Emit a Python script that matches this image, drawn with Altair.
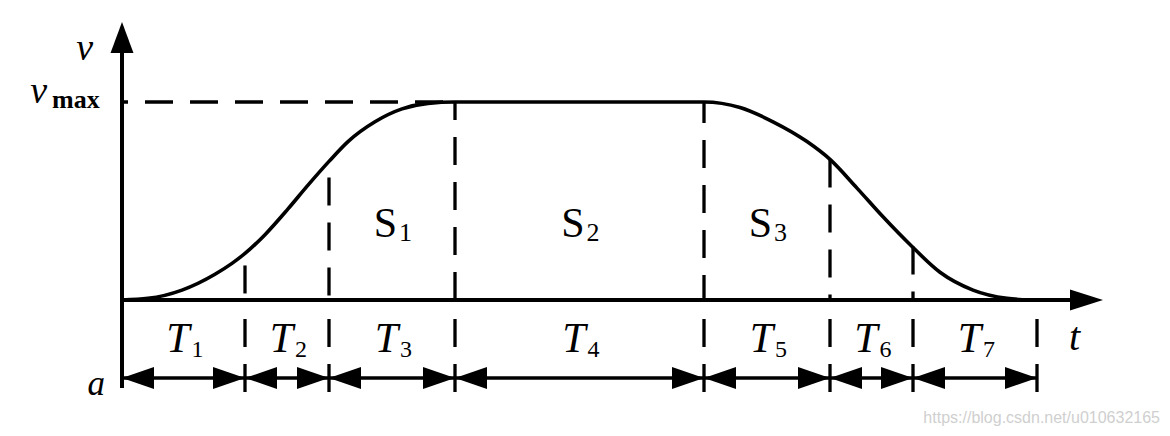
import altair as alt
import pandas as pd
import numpy as np

# ---------------- data ----------------
# durations of the seven phases T1..T7 (time units)
durations = [1.23, 0.84, 1.26, 2.49, 1.26, 0.83, 1.24]
phase_ids = ["1", "2", "3", "4", "5", "6", "7"]
# velocity profile samples (t, v) with v normalised so that v_max = 1
curve_t = [0.00, 0.26, 0.60, 0.93, 1.10, 1.23, 1.43, 1.66, 1.86, 2.07, 2.26, 2.53, 2.80, 3.06, 3.33,
           5.82, 6.18, 6.51, 6.85, 7.08, 7.35, 7.61, 7.90, 8.18, 8.51, 8.85, 9.08]
curve_v = [0.00, 0.008, 0.05, 0.13, 0.185, 0.235, 0.33, 0.46, 0.58, 0.70, 0.80, 0.90, 0.965, 0.993, 1.00,
           1.00, 0.972, 0.90, 0.80, 0.71, 0.565, 0.42, 0.27, 0.14, 0.05, 0.008, 0.00]
# curve height at the inner phase boundaries 1..6
boundary_top_v = [0.235, 0.70, 1.00, 1.00, 0.71, 0.27]
v_max = 1.0
area_ids = ["1", "2", "3"]          # S1, S2, S3 lie over T3, T4, T5
area_phase = [2, 3, 4]
watermark = "https://blog.csdn.net/u010632165"

# ---------------- layout ----------------
T_DOMAIN = [-1.14, 10.40]
V_DOMAIN = [-0.6465, 1.4747]
AXIS_TOP = 1.404       # tip of the v arrow
AXIS_BOTTOM = -0.444
X_TIP = 9.81           # tip of the t arrow
ROW_V = -0.394         # double-arrow row
DASH_BOTTOM = -0.465
T_LABEL_V = -0.263
S_LABEL_V = 0.318
DASH = [28, 17]
top_dash_offsets = [33, 29, 10, 7, 0, 0]

FONT = "Liberation Serif"

xs = alt.Scale(domain=T_DOMAIN, nice=False, zero=False)
ys = alt.Scale(domain=V_DOMAIN, nice=False, zero=False)


def X(f="t"):
    return alt.X(f"{f}:Q", scale=xs, axis=None)


def Y(f="v"):
    return alt.Y(f"{f}:Q", scale=ys, axis=None)


bounds = np.concatenate([[0.0], np.cumsum(durations)])
t_end = float(bounds[-1])
mids = (bounds[:-1] + bounds[1:]) / 2

layers = []

# velocity curve
curve_df = pd.DataFrame({"t": curve_t, "v": curve_v})
layers.append(alt.Chart(curve_df).mark_line(color="black", strokeWidth=3.6, interpolate="monotone")
              .encode(x=X(), y=Y()))

# v_max dashed line
vm_df = pd.DataFrame({"t": [0.0], "t2": [float(bounds[3])], "v": [v_max]})
layers.append(alt.Chart(vm_df).mark_rule(color="black", strokeWidth=3.3, strokeDash=DASH, strokeDashOffset=22)
              .encode(x=X(), x2="t2:Q", y=Y()))

# dashed boundaries above the axis
for i, (b, top) in enumerate(zip(bounds[1:7], boundary_top_v)):
    d = pd.DataFrame({"t": [float(b)], "v": [top], "v2": [0.0]})
    layers.append(alt.Chart(d).mark_rule(color="black", strokeWidth=3.3, strokeDash=DASH,
                                         strokeDashOffset=top_dash_offsets[i])
                  .encode(x=X(), y=Y(), y2="v2:Q"))

# dashed boundaries below the axis
below_df = pd.DataFrame({"t": bounds[1:], "v": DASH_BOTTOM, "v2": 0.0})
layers.append(alt.Chart(below_df).mark_rule(color="black", strokeWidth=3.3, strokeDash=DASH)
              .encode(x=X(), y=Y(), y2="v2:Q"))

# axes
xaxis_df = pd.DataFrame({"t": [0.0], "t2": [X_TIP - 0.25], "v": [0.0]})
layers.append(alt.Chart(xaxis_df).mark_rule(color="black", strokeWidth=4)
              .encode(x=X(), x2="t2:Q", y=Y()))
yaxis_df = pd.DataFrame({"t": [0.0], "v": [AXIS_BOTTOM], "v2": [AXIS_TOP - 0.1]})
layers.append(alt.Chart(yaxis_df).mark_rule(color="black", strokeWidth=4)
              .encode(x=X(), y=Y(), y2="v2:Q"))

# axis arrowheads (tip at the datum point)
layers.append(alt.Chart(pd.DataFrame({"t": [X_TIP], "v": [0.0]}))
              .mark_point(shape="M0,0 L-2,-0.64 L-2,0.64 Z", size=1089, filled=True, opacity=1,
                          color="black", strokeWidth=0)
              .encode(x=X(), y=Y()))
layers.append(alt.Chart(pd.DataFrame({"t": [0.0], "v": [AXIS_TOP]}))
              .mark_point(shape="M0,0 L-0.74,2 L0.74,2 Z", size=961, filled=True, opacity=1,
                          color="black", strokeWidth=0)
              .encode(x=X(), y=Y()))

# double-arrow row
row_df = pd.DataFrame({"t": [0.0], "t2": [t_end], "v": [ROW_V]})
layers.append(alt.Chart(row_df).mark_rule(color="black", strokeWidth=3.5)
              .encode(x=X(), x2="t2:Q", y=Y()))
left_df = pd.DataFrame({"t": bounds[:-1], "v": ROW_V})
right_df = pd.DataFrame({"t": bounds[1:], "v": ROW_V})
layers.append(alt.Chart(left_df)
              .mark_point(shape="M0,0 L2,-0.68 L2,0.68 Z", size=1024, filled=True, opacity=1,
                          color="black", strokeWidth=0)
              .encode(x=X(), y=Y()))
layers.append(alt.Chart(right_df)
              .mark_point(shape="M0,0 L-2,-0.68 L-2,0.68 Z", size=1024, filled=True, opacity=1,
                          color="black", strokeWidth=0)
              .encode(x=X(), y=Y()))

# T labels
tl_df = pd.DataFrame({"t": mids, "v": T_LABEL_V, "main": "T", "sub": phase_ids})
layers.append(alt.Chart(tl_df).mark_text(font=FONT, fontSize=42, fontStyle="italic", align="right",
                                         baseline="alphabetic", dx=6, color="black")
              .encode(x=X(), y=Y(), text="main:N"))
layers.append(alt.Chart(tl_df).mark_text(font=FONT, fontSize=24, align="left",
                                         baseline="alphabetic", dx=8, dy=5, color="black")
              .encode(x=X(), y=Y(), text="sub:N"))

# S labels
sl_df = pd.DataFrame({"t": mids[area_phase], "v": S_LABEL_V, "main": "S", "sub": area_ids})
layers.append(alt.Chart(sl_df).mark_text(font=FONT, fontSize=42, align="right",
                                         baseline="alphabetic", dx=5, color="black")
              .encode(x=X(), y=Y(), text="main:N"))
layers.append(alt.Chart(sl_df).mark_text(font=FONT, fontSize=26, align="left",
                                         baseline="alphabetic", dx=7, dy=4, color="black")
              .encode(x=X(), y=Y(), text="sub:N"))

# axis letters
def label(t, v, txt, **kw):
    d = pd.DataFrame({"t": [t], "v": [v], "txt": [txt]})
    base = dict(font=FONT, baseline="alphabetic", color="black")
    base.update(kw)
    return alt.Chart(d).mark_text(**base).encode(x=X(), y=Y(), text="txt:N")

layers.append(label(0.0, AXIS_TOP, "v", fontSize=38, fontStyle="italic", align="right", dx=-29, dy=38))
layers.append(label(0.0, v_max, "v", fontSize=38, fontStyle="italic", align="right", dx=-75, dy=1))
layers.append(label(0.0, v_max, "max", fontSize=26, fontWeight="bold", align="left", dx=-70, dy=6))
layers.append(label(0.0, ROW_V, "a", fontSize=35, fontStyle="italic", align="right", dx=-17, dy=17))
layers.append(label(t_end, 0.0, "t", fontSize=40, fontStyle="italic", align="left", dx=32, dy=50))
layers.append(label(T_DOMAIN[1], V_DOMAIN[0], watermark, font="Liberation Sans", fontSize=16,
                    color="#cfcfcf", align="right", dx=-2, dy=-5))

chart = (alt.layer(*layers)
         .properties(width=1154, height=420, padding=0, autosize=alt.AutoSizeParams(type="none"),
                     background="white")
         .configure_view(stroke=None))

chart.save("out.html", embed_options={"renderer": "svg", "actions": False})
